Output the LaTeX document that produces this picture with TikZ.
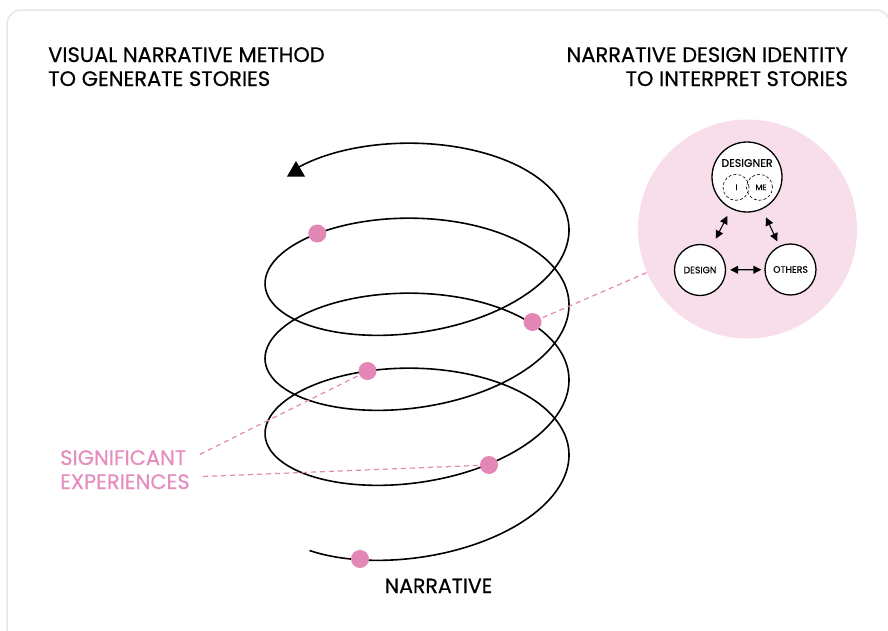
\documentclass[tikz,border=0pt]{standalone}
\usepackage{fontspec}
\setmainfont{Poppins}[FakeBold=0.5]
\usetikzlibrary{arrows.meta}

\definecolor{rosedot}{HTML}{E387B7}
\definecolor{rosetext}{HTML}{E58DBE}
\definecolor{roseback}{HTML}{F7DEEA}
\definecolor{framegray}{HTML}{E6E6E6}

\tikzset{
    expdot/.style={circle, fill=rosedot, inner sep=0pt, minimum size=18pt},
    ring/.style={circle, draw, line width=1.3pt, fill=white, inner sep=0pt},
    selfring/.style={circle, draw, dash pattern=on 3pt off 2pt, line width=0.6pt, inner sep=0pt, minimum size=26pt},
    link/.style={rosedot, line width=1.2pt, dash pattern=on 5pt off 4pt},
    twoway/.style={{Triangle[length=8pt,width=8pt]}-{Triangle[length=8pt,width=8pt]}, line width=1.1pt},
    headline/.style={inner sep=0pt, font=\fontsize{21}{24}\selectfont},
}

\begin{document}
\begin{tikzpicture}[x=1pt, y=-1pt]
            \useasboundingbox (0,0) rectangle (888,630);
            \clip (0,0) rectangle (888,630);
            \draw[framegray, line width=1.5pt, rounded corners=14pt] (7,10) rectangle (890,660);

            \node[headline, anchor=base west] (lefttop) at (48,62) {VISUAL NARRATIVE METHOD};
            \node[headline, anchor=base west] (leftbot) at (48,86) {TO GENERATE STORIES};
            \node[headline, anchor=base east] (righttop) at (848,62) {NARRATIVE DESIGN IDENTITY};
            \node[headline, anchor=base east] (rightbot) at (848,86) {TO INTERPRET STORIES};

            \draw[line width=1.6pt, line join=round] plot[domain=-135:1225, samples=400, smooth]
                ({417+152*cos(\x)}, {463-0.208333*\x-76*sin(\x)-8*cos(\x)});
            \fill (287,176.5) -- (305,176.5) -- (296,161) -- cycle;

            \node[circle, fill=roseback, minimum size=219pt, inner sep=0pt] (identity) at (747.5,229) {};

            \node[expdot] (d1) at (317.3,233.5) {};
            \node[expdot] (d2) at (532.5,322) {};
            \node[expdot] (d3) at (367.5,371) {};
            \node[expdot] (d4) at (489,465) {};
            \node[expdot] (d5) at (360,559) {};

            \node[inner sep=0pt, anchor=base west, text=rosetext, font=\fontsize{21}{24}\selectfont] (sig) at (60,465) {SIGNIFICANT};
            \node[inner sep=0pt, anchor=base west, text=rosetext, font=\fontsize{21}{24}\selectfont] (exp) at (60,489) {EXPERIENCES};
            \node[inner sep=0pt, anchor=base, font=\fontsize{20.5}{24}\selectfont] (narr) at (438.5,593) {NARRATIVE};

            \draw[link, shorten <=2pt, shorten >=-2pt] (d2) -- (identity);
            \draw[link, shorten <=2pt, shorten >=13pt] (d3) -- (sig.east |- 0,461);
            \draw[link, shorten <=2pt, shorten >=12pt] (d4) -- (exp.east |- 0,477);

            \node[ring, minimum size=70pt] (designer) at (747,177) {};
            \node[inner sep=0pt, font=\fontsize{11}{13}\selectfont] (designerlabel) at (747,163) {DESIGNER};
            \node[selfring] (iring) at (736,187.3) {};
            \node[selfring] (mering) at (759.5,187.3) {};
            \node[inner sep=0pt, font=\fontsize{8}{9}\selectfont] (ilabel) at (736.5,187.3) {I};
            \node[inner sep=0pt, font=\fontsize{8}{9}\selectfont] (melabel) at (761,187.3) {ME};
            \node[ring, minimum size=51pt, font=\fontsize{9.3}{10}\selectfont] (design) at (700,270) {DESIGN};
            \node[ring, minimum size=51pt, font=\fontsize{9.3}{10}\selectfont] (others) at (790.5,269.5) {OTHERS};

            \draw[twoway, shorten <=8pt, shorten >=9pt] (designer) -- (design);
            \draw[twoway, shorten <=9pt, shorten >=5pt] (designer) -- (others);
            \draw[twoway, shorten <=4pt, shorten >=3pt] (design) -- (others);
        \end{tikzpicture}
\end{document}
